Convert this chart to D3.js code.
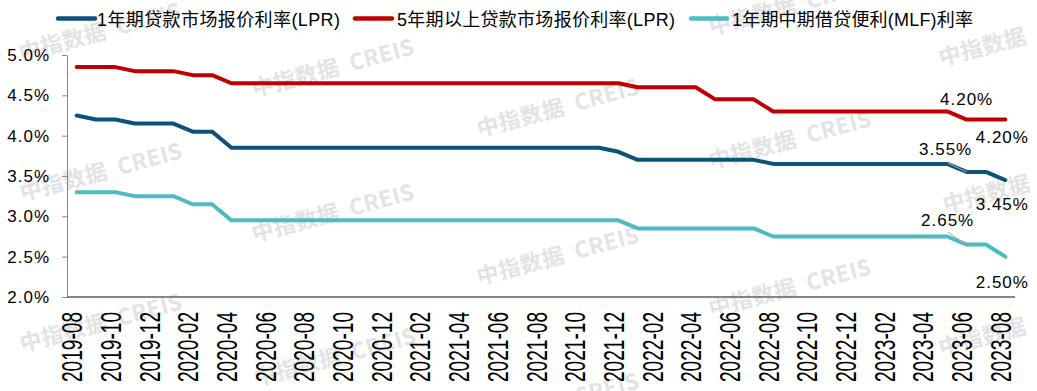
<!DOCTYPE html>
<html><head><meta charset="utf-8">
<script src="https://cdn.jsdelivr.net/npm/d3@7"></script>
<style>body{margin:0;background:#fff}svg{display:block}</style>
</head><body><svg id="c" width="1037" height="391"></svg>
<script>
const months = ["2019-08","2019-09","2019-10","2019-11","2019-12","2020-01","2020-02","2020-03","2020-04","2020-05","2020-06","2020-07","2020-08","2020-09","2020-10","2020-11","2020-12","2021-01","2021-02","2021-03","2021-04","2021-05","2021-06","2021-07","2021-08","2021-09","2021-10","2021-11","2021-12","2022-01","2022-02","2022-03","2022-04","2022-05","2022-06","2022-07","2022-08","2022-09","2022-10","2022-11","2022-12","2023-01","2023-02","2023-03","2023-04","2023-05","2023-06","2023-07","2023-08"];
const tickLabels = ["2019-08","2019-10","2019-12","2020-02","2020-04","2020-06","2020-08","2020-10","2020-12","2021-02","2021-04","2021-06","2021-08","2021-10","2021-12","2022-02","2022-04","2022-06","2022-08","2022-10","2022-12","2023-02","2023-04","2023-06","2023-08"];
const seriesNames = ["1年期贷款市场报价利率(LPR)","5年期以上贷款市场报价利率(LPR)","1年期中期借贷便利(MLF)利率"];
const lpr1y = [4.25,4.20,4.20,4.15,4.15,4.15,4.05,4.05,3.85,3.85,3.85,3.85,3.85,3.85,3.85,3.85,3.85,3.85,3.85,3.85,3.85,3.85,3.85,3.85,3.85,3.85,3.85,3.85,3.80,3.70,3.70,3.70,3.70,3.70,3.70,3.70,3.65,3.65,3.65,3.65,3.65,3.65,3.65,3.65,3.65,3.65,3.55,3.55,3.45];
const lpr5y = [4.85,4.85,4.85,4.80,4.80,4.80,4.75,4.75,4.65,4.65,4.65,4.65,4.65,4.65,4.65,4.65,4.65,4.65,4.65,4.65,4.65,4.65,4.65,4.65,4.65,4.65,4.65,4.65,4.65,4.60,4.60,4.60,4.60,4.45,4.45,4.45,4.30,4.30,4.30,4.30,4.30,4.30,4.30,4.30,4.30,4.30,4.20,4.20,4.20];
const mlf1y = [3.30,3.30,3.30,3.25,3.25,3.25,3.15,3.15,2.95,2.95,2.95,2.95,2.95,2.95,2.95,2.95,2.95,2.95,2.95,2.95,2.95,2.95,2.95,2.95,2.95,2.95,2.95,2.95,2.95,2.85,2.85,2.85,2.85,2.85,2.85,2.85,2.75,2.75,2.75,2.75,2.75,2.75,2.75,2.75,2.75,2.75,2.65,2.65,2.50];
const yTicks = [2.0,2.5,3.0,3.5,4.0,4.5,5.0];
const colors = ["#0b5478","#c00000","#4dbac4"];
const watermarkText = "中指数据  CREIS";

const svg = d3.select("#c");
const FONT = "'Liberation Sans', Arial, 'Noto Sans CJK SC', sans-serif";
const x = d3.scalePoint().domain(months).range([67,1015]).padding(0.5);
const y = d3.scaleLinear().domain([2,5]).range([297,55]);

// watermarks
const wm = [[100,32],[333,68],[558,108],[790,6],[1020,37],
            [101,172],[333,213],[558,256],[790,140],[1024,184],
            [101,323],[335,357],[558,402],[790,288],[1020,327]];
svg.append("g").selectAll("text").data(wm).join("text")
  .attr("transform", d => `translate(${d[0]},${d[1]}) rotate(-15)`)
  .attr("text-anchor","middle").attr("dy","0.35em").style("white-space","pre")
  .attr("font-family","'Noto Sans CJK SC', sans-serif").attr("font-weight","bold")
  .attr("font-size",22).attr("letter-spacing","0.5px").attr("fill","#e3e3e3").text(watermarkText);

// y axis
const ya = svg.append("g").attr("transform","translate(67,0)")
  .call(d3.axisLeft(y).tickValues(yTicks).tickSize(5).tickSizeOuter(0).tickPadding(12).tickFormat(d => d.toFixed(1)+"%"));
ya.select(".domain").attr("stroke","#868686");
ya.selectAll(".tick line").attr("stroke","#868686");
ya.selectAll("text").attr("font-family",FONT).attr("font-size",17).attr("letter-spacing","1px").attr("fill","#000");

// x axis line
svg.append("line").attr("x1",67).attr("x2",1015).attr("y1",y(2)).attr("y2",y(2))
  .attr("stroke","#5f5f5f").attr("stroke-width",1.3);

// x labels
svg.append("g").selectAll("text").data(tickLabels).join("text")
  .attr("transform", d => `translate(${x(d)},312) rotate(-90) scale(0.636,1)`)
  .attr("text-anchor","end").attr("y",5.5)
  .attr("font-family",FONT).attr("font-size",30).attr("fill","#000").text(d => d);

// lines
const line = d3.line().x((d,i) => x(months[i])).y(d => y(d));
[lpr1y, lpr5y, mlf1y].forEach((s,k) => {
  svg.append("path").datum(s).attr("d",line).attr("fill","none")
    .attr("stroke",colors[k]).attr("stroke-width",4)
    .attr("stroke-linejoin","round").attr("stroke-linecap","round");
});

// leader lines
const i06 = months.indexOf("2023-06");
[[lpr1y,-9],[mlf1y,-12.6]].forEach(([s,dy]) => {
  svg.append("line").attr("x1",x(months[i06])-19).attr("y1",y(s[i06])+dy)
    .attr("x2",x(months[i06])).attr("y2",y(s[i06])).attr("stroke","#a6a6a6").attr("stroke-width",1);
});

// data labels
const last = months.length-1;
const ann = [
  [lpr5y,i06,0,-15],[lpr5y,last,-3,23],
  [lpr1y,i06,-21,-17],[lpr1y,last,-3,30],
  [mlf1y,i06,-19,-19],[mlf1y,last,-3,31]
];
svg.append("g").selectAll("text").data(ann).join("text")
  .attr("x", d => x(months[d[1]])+d[2]).attr("y", d => y(d[0][d[1]])+d[3])
  .attr("text-anchor","middle").attr("font-family",FONT).attr("font-size",17)
  .attr("letter-spacing","1px").attr("fill","#000")
  .text(d => d[0][d[1]].toFixed(2)+"%");

// legend
const lg = [[58,95,97,243],[355,392,397,278],[691,727,732,241]];
lg.forEach((p,k) => {
  svg.append("line").attr("x1",p[0]).attr("x2",p[1]).attr("y1",18.5).attr("y2",18.5)
    .attr("stroke",colors[k]).attr("stroke-width",4.5).attr("stroke-linecap","round");
  svg.append("text").attr("x",p[2]).attr("y",26).attr("font-family",FONT).attr("font-size",18)
    .attr("textLength",p[3]).attr("lengthAdjust","spacing").attr("fill","#000").text(seriesNames[k]);
});
</script></body></html>
